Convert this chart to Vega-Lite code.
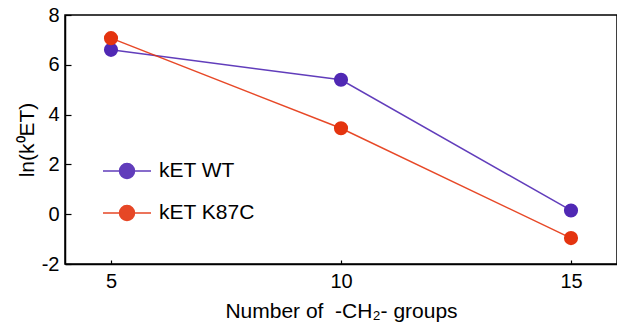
{
  "$schema": "https://vega.github.io/schema/vega-lite/v6.json",
  "width": 552,
  "height": 249,
  "autosize": {"type": "none"},
  "padding": {"left": 65, "top": 15, "right": 0, "bottom": 59},
  "config": {
    "font": "Liberation Sans",
    "view": {"stroke": "#000000", "strokeWidth": 1.5},
    "axis": {
      "domainColor": "#000000",
      "domainWidth": 1.5,
      "tickColor": "#000000",
      "tickWidth": 1.2,
      "labelColor": "#000000",
      "labelFontSize": 20,
      "titleColor": "#000000",
      "titleFontSize": 21,
      "titleFontWeight": "normal",
      "grid": false
    }
  },
  "data": {
    "values": [
      {"n": 5, "v": 6.6, "series": "kET WT"},
      {"n": 10, "v": 5.4, "series": "kET WT"},
      {"n": 15, "v": 0.15, "series": "kET WT"},
      {"n": 5, "v": 7.07, "series": "kET K87C"},
      {"n": 10, "v": 3.45, "series": "kET K87C"},
      {"n": 15, "v": -0.96, "series": "kET K87C"}
    ]
  },
  "encoding": {
    "x": {
      "field": "n",
      "type": "quantitative",
      "scale": {"domain": [4, 16], "nice": false, "zero": false},
      "axis": {
        "values": [5, 10, 15],
        "tickSize": -4,
        "labelPadding": 11,
        "title": "Number of \u00a0-CH₂- groups",
        "titlePadding": 9
      }
    },
    "y": {
      "field": "v",
      "type": "quantitative",
      "scale": {"domain": [-2, 8], "nice": false},
      "axis": {
        "values": [-2, 0, 2, 4, 6, 8],
        "tickSize": -6,
        "labelPadding": 12,
        "labelExpr": "replace(datum.label, '\u2212', '-')",
        "title": "ln(k⁰ET)",
        "titlePadding": 4
      }
    }
  },
  "layer": [
    {
      "mark": {"type": "line", "strokeWidth": 1.5, "opacity": 0.9},
      "encoding": {
        "color": {
          "field": "series",
          "type": "nominal",
          "scale": {"domain": ["kET WT", "kET K87C"], "range": ["#5028b4", "#e4340f"]}
        }
      }
    },
    {
      "mark": {"type": "point", "filled": true, "size": 200, "opacity": 1},
      "encoding": {
        "color": {
          "field": "series",
          "type": "nominal",
          "scale": {"domain": ["kET WT", "kET K87C"], "range": ["#5028b4", "#e4340f"]},
          "legend": {
            "title": null,
            "orient": "none",
            "legendX": 49,
            "legendY": 143,
            "padding": 0,
            "symbolType": "M-2,0H2M0.625,0A0.625,0.625 0 1 1 -0.625,0A0.625,0.625 0 1 1 0.625,0Z",
            "symbolSize": 576,
            "symbolStrokeWidth": 1.5,
            "labelFontSize": 21,
            "labelColor": "#000000",
            "labelOffset": 19,
            "rowPadding": 18,
            "encode": {
              "symbols": {
                "update": {
                  "fill": {"scale": "color", "field": "value"},
                  "stroke": {"scale": "color", "field": "value"},
                  "opacity": {"value": 1}
                }
              }
            }
          }
        }
      }
    }
  ]
}
